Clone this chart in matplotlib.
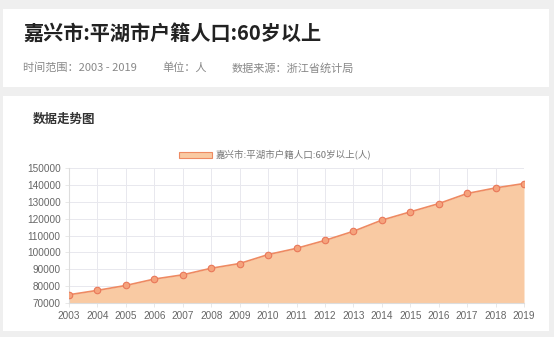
import matplotlib.pyplot as plt
from matplotlib.patches import Rectangle

plt.rcParams["font.family"] = ["Noto Sans CJK SC", "DejaVu Sans"]

years = list(range(2003, 2020))
values = [74900, 77500, 80400, 84200, 86700, 90600, 93400, 98700, 102400,
          107100, 112500, 119100, 124000, 128900, 134900, 138200, 140800]
y_ticks = [70000, 80000, 90000, 100000, 110000, 120000, 130000, 140000, 150000]

title = "嘉兴市:平湖市户籍人口:60岁以上"
subtitle = ["时间范围：2003 - 2019", "单位：人", "数据来源：浙江省统计局"]
panel_title = "数据走势图"
series_name = "嘉兴市:平湖市户籍人口:60岁以上(人)"

W, H = 554, 337
fig = plt.figure(figsize=(W / 100, H / 100), dpi=100, facecolor="#efefef")


def fx(px):
    return px / W


def fy(py):
    return 1 - py / H


# white cards
fig.add_artist(Rectangle((fx(3), fy(87)), fx(546), 78 / H, transform=fig.transFigure,
                         facecolor="white", edgecolor="none", zorder=0))
fig.add_artist(Rectangle((fx(3), fy(331)), fx(546), 235 / H, transform=fig.transFigure,
                         facecolor="white", edgecolor="none", zorder=0))

fig.text(fx(23), fy(33), title, fontsize=14.5, fontweight="bold", color="#222222",
         va="center", ha="left")
sub_x = [23, 162, 232]
for x, s in zip(sub_x, subtitle):
    fig.text(fx(x), fy(68), s, fontsize=8, color="#888888", va="center", ha="left")
fig.text(fx(33), fy(119), panel_title, fontsize=9, fontweight="bold", color="#333333",
         va="center", ha="left")

# legend
fig.add_artist(Rectangle((fx(179), fy(158)), fx(33), 6 / H, transform=fig.transFigure,
                         facecolor="#f9caa3", edgecolor="#ee8a62", linewidth=0.8))
fig.text(fx(216), fy(155), series_name, fontsize=6.8, color="#777777",
         va="center", ha="left")

ax = fig.add_axes([fx(69), fy(303), fx(524 - 69), (303 - 168) / H])
ax.set_facecolor("white")
ax.fill_between(years, values, 70000, color="#f9caa3", linewidth=0, zorder=2)
ax.plot(years, values, color="#ee8a62", linewidth=1.2, zorder=3)
ax.scatter(years, values, s=22, facecolor="#f5a37c", edgecolor="#e9785a",
           linewidth=0.8, zorder=4)

ax.set_xlim(2003, 2019)
ax.set_ylim(70000, 150000)
ax.set_xticks(years)
ax.set_yticks(y_ticks)
ax.set_xticklabels([str(y) for y in years], fontfamily="Liberation Sans")
ax.set_yticklabels([str(v) for v in y_ticks], fontfamily="Liberation Sans")
ax.tick_params(labelsize=7.2, colors="#666666", length=3, width=0.6, pad=3)
ax.tick_params(axis="x", color="#e4e4e4")
ax.tick_params(axis="y", color="#e4e4e4")
ax.grid(True, color="#e8e8ee", linewidth=0.7, zorder=1)
ax.set_axisbelow(True)
for s in ["top", "right"]:
    ax.spines[s].set_visible(False)
for s in ["left", "bottom"]:
    ax.spines[s].set_color("#dddddd")
    ax.spines[s].set_linewidth(0.8)

fig.savefig("out.png", dpi=100, facecolor=fig.get_facecolor())
